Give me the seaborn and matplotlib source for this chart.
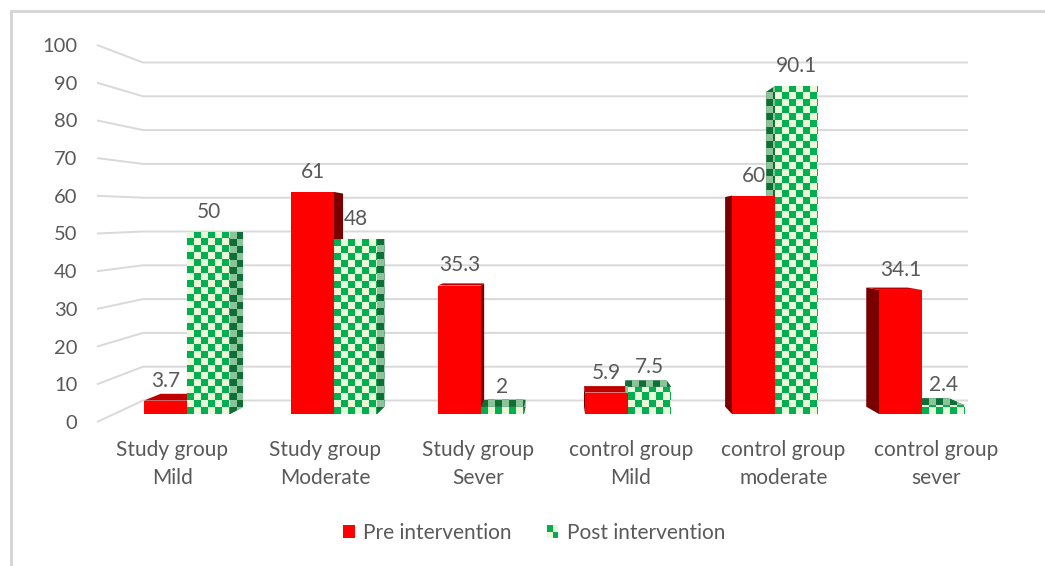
import numpy as np
import pandas as pd
import matplotlib
matplotlib.use("Agg")
import matplotlib.pyplot as plt
import seaborn as sns
from matplotlib.patches import Polygon, Rectangle
from matplotlib.lines import Line2D
from matplotlib.colors import to_rgb
from matplotlib.legend_handler import HandlerBase

# ---- data -------------------------------------------------------------
categories = ["Study group\nMild", "Study group\nModerate", "Study group\nSever",
              "control group\nMild", "control group\nmoderate", "control group\nsever"]
pre_values = [3.7, 61, 35.3, 5.9, 60, 34.1]
post_values = [50, 48, 2, 7.5, 90.1, 2.4]
series_names = ["Pre intervention", "Post intervention"]
y_ticks = list(range(0, 101, 10))

df = pd.DataFrame({
    "category": categories * 2,
    "value": pre_values + post_values,
    "period": [series_names[0]] * len(categories) + [series_names[1]] * len(categories),
})

# ---- style ------------------------------------------------------------
sns.set_theme(style="white")
plt.rcParams["font.family"] = ["Lato", "DejaVu Sans"]
TEXT = "#595959"
GRID = "#d9d9d9"
RED, RED_SIDE, RED_TOP = "#ff0000", "#7a0000", "#c00000"
GREEN, PALE = "#00b050", "#eaf7d8"
GREEN_DARK, PALE_DARK = "#0e6e35", "#8cc49a"
FS = 15
FS_TICK = 14.5

W, H = 1045, 566
fig = plt.figure(figsize=(W / 100, H / 100), dpi=100)
fig.patch.set_facecolor("white")

# plot box in pixels and pixel <-> data helpers
L, R, T, B = 97, 1010, 20, 430
X0, SX = 187.0, 147.0      # pixel of first category centre, px per category
Y0, SY = 414.0, 3.64       # pixel of value 0, px per value unit
def dx(px): return (px - X0) / SX
def dy(py): return (Y0 - py) / SY

ax = fig.add_axes([L / W, 1 - B / H, (R - L) / W, (B - T) / H])

sns.barplot(data=df, x="category", y="value", hue="period",
            palette=[RED, GREEN], width=0.585, saturation=1,
            linewidth=0, legend=False, ax=ax, zorder=3)

# perspective settings for the pseudo-3D look
VX, VY, K = dx(560), dy(232), 0.96
def back(x, y):
    return (VX + (x - VX) * K, VY + (y - VY) * K)

CELL = 7  # checker cell size in pixels
def checker(ax, clip, bounds, c1, c2, z):
    x0, x1, y0, y1 = bounds
    cw, ch = CELL / SX, CELL / SY
    nx = int(np.ceil((x1 - x0) / cw)) + 1
    ny = int(np.ceil((y1 - y0) / ch)) + 1
    ii, jj = np.indices((ny, nx))
    m = ((ii + jj) % 2)[..., None]
    img = np.where(m == 0, np.array(to_rgb(c1)), np.array(to_rgb(c2)))
    im = ax.imshow(img, origin="lower", interpolation="nearest", aspect="auto",
                   extent=(x0, x0 + nx * cw, y0, y0 + ny * ch), zorder=z)
    im.set_clip_path(clip)

# side and top faces, derived from each drawn bar
for ci, container in enumerate(ax.containers):
    for bar in container:
        x0 = bar.get_x(); x1 = x0 + bar.get_width(); h = bar.get_height()
        cx = (x0 + x1) / 2
        faces = []
        xe = x1 if cx < VX else x0
        faces.append(("side", [(xe, 0), (xe, h), back(xe, h), back(xe, 0)]))
        if h < VY:
            faces.append(("top", [(x0, h), (x1, h), back(x1, h), back(x0, h)]))
        for kind, pts in faces:
            if ci == 0:
                col = RED_SIDE if kind == "side" else RED_TOP
                ax.add_patch(Polygon(pts, closed=True, fc=col, ec="none", zorder=2))
            else:
                poly = Polygon(pts, closed=True, fc=GREEN_DARK, ec="none", zorder=2.2)
                ax.add_patch(poly)
                xs = [p[0] for p in pts]; ys = [p[1] for p in pts]
                checker(ax, poly, (min(xs), max(xs), min(ys), max(ys)),
                        GREEN_DARK, PALE_DARK, 2.4)
        if ci == 1:
            checker(ax, bar, (x0, x1, 0, h), GREEN, PALE, 3.5)

# back-wall gridlines with their perspective leaders to the tick labels
tick_pos = [dy(422 - 3.77 * v) for v in y_ticks]
for v, ty in zip(y_ticks, tick_pos):
    wy = dy(400.5 - 3.38 * v)
    ax.plot([dx(97), dx(143), dx(968)], [ty, wy, wy], color=GRID, lw=1.4,
            zorder=0.5, clip_on=False, solid_capstyle="butt")

# value labels
for container, vals in zip(ax.containers, [pre_values, post_values]):
    for bar, v in zip(container, vals):
        ax.text(bar.get_x() + bar.get_width() / 2, v + 5.5, f"{v:g}",
                ha="center", va="center", color=TEXT, fontsize=FS, zorder=5)

ax.set_xlim(dx(L), dx(R))
ax.set_ylim(dy(B), dy(T))
ax.set_yticks(tick_pos, [str(v) for v in y_ticks])
label_x = [VX + (i - VX) * 1.0395 for i in range(len(categories))]
ax.set_xticks(label_x, categories)
ax.tick_params(axis="y", length=0, pad=14, labelsize=FS_TICK, labelcolor=TEXT)
ax.tick_params(axis="x", length=0, pad=7, labelsize=FS, labelcolor=TEXT)
for t in ax.get_xticklabels():
    t.set_linespacing(1.5)
ax.set_xlabel(""); ax.set_ylabel("")
ax.grid(False)
for s in ax.spines.values():
    s.set_visible(False)
ax.patch.set_alpha(0)

# legend with a checker swatch for the post series
class CheckerHandler(HandlerBase):
    def create_artists(self, legend, orig_handle, xdescent, ydescent,
                       width, height, fontsize, trans):
        hw, hh = width / 2, height / 2
        arts = []
        for i in range(2):
            for j in range(2):
                col = GREEN if i != j else PALE
                arts.append(Rectangle((-xdescent + i * hw, -ydescent + j * hh), hw, hh,
                                      fc=col, ec="none", transform=trans))
        return arts

pre_handle = Rectangle((0, 0), 1, 1, fc=RED, ec="none")
post_handle = Rectangle((0, 0), 1, 1, fc=GREEN, ec="none")
fig.legend(handles=[pre_handle, post_handle], labels=series_names,
           handler_map={post_handle: CheckerHandler()},
           loc="center", bbox_to_anchor=(534 / W, 1 - 533 / H), ncol=2,
           frameon=False, fontsize=FS, handlelength=0.55, handleheight=0.55,
           handletextpad=0.4, columnspacing=1.7, labelcolor=TEXT)

# chart-area border
fig.add_artist(Line2D([11 / W, 11 / W], [0, 1 - 11 / H], transform=fig.transFigure,
                      color="#d4d4d4", lw=2))
fig.add_artist(Line2D([11 / W, 1], [1 - 11 / H, 1 - 11 / H], transform=fig.transFigure,
                      color="#d4d4d4", lw=2))

fig.savefig("out.png", dpi=100, facecolor="white")
